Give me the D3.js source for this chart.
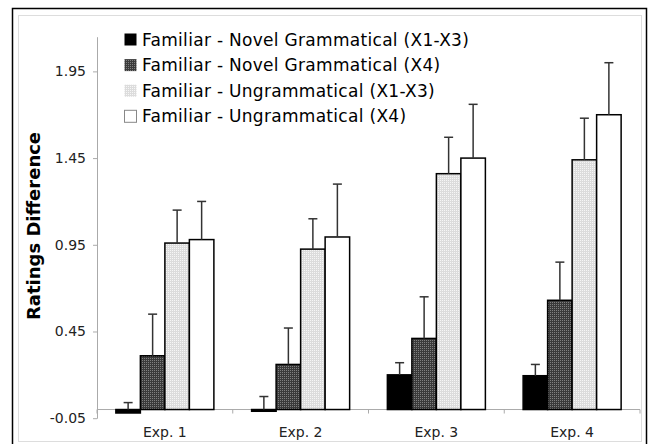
<!DOCTYPE html>
<head>
	<meta charset="utf-8">
	<script src="https://d3js.org/d3.v7.min.js"></script>
	<style>
		body { margin: 0; background: #fff; }
		text { font-family: "DejaVu Sans", Verdana, sans-serif; }
	</style>
</head>
<body>
<svg></svg>
<script>
	var experiments = ["Exp. 1", "Exp. 2", "Exp. 3", "Exp. 4"];
	var seriesNames = [
		"Familiar - Novel Grammatical (X1-X3)",
		"Familiar - Novel Grammatical (X4)",
		"Familiar - Ungrammatical (X1-X3)",
		"Familiar - Ungrammatical (X4)"
	];
	// means, one array per series (Exp. 1..4)
	var novelX1X3 = [-0.02, -0.01, 0.20, 0.195];
	var novelX4 = [0.31, 0.26, 0.41, 0.63];
	var ungramX1X3 = [0.96, 0.925, 1.36, 1.44];
	var ungramX4 = [0.98, 0.995, 1.45, 1.70];
	// top of the error bars
	var novelX1X3Err = [0.04, 0.075, 0.27, 0.26];
	var novelX4Err = [0.55, 0.47, 0.65, 0.85];
	var ungramX1X3Err = [1.15, 1.10, 1.57, 1.68];
	var ungramX4Err = [1.20, 1.30, 1.76, 2.00];
	var yTicks = [-0.05, 0.45, 0.95, 1.45, 1.95];

	var means = [novelX1X3, novelX4, ungramX1X3, ungramX4];
	var errs = [novelX1X3Err, novelX4Err, ungramX1X3Err, ungramX4Err];

	var width = 649, height = 444;
	var svg = d3.select("svg").attr("width", width).attr("height", height);

	var defs = svg.append("defs");
	var dark = defs.append("pattern").attr("id", "dark")
		.attr("width", 2).attr("height", 2).attr("patternUnits", "userSpaceOnUse");
	dark.append("rect").attr("width", 2).attr("height", 2).attr("fill", "#3a3a3a");
	dark.append("rect").attr("width", 1).attr("height", 1).attr("fill", "#808080");
	var light = defs.append("pattern").attr("id", "light")
		.attr("width", 2).attr("height", 2).attr("patternUnits", "userSpaceOnUse");
	light.append("rect").attr("width", 2).attr("height", 2).attr("fill", "#dcdcdc");
	light.append("rect").attr("width", 1).attr("height", 1).attr("fill", "#f6f6f6");

	var fills = ["#000", "url(#dark)", "url(#light)", "#fff"];

	// frames
	svg.append("rect").attr("x", 12.5).attr("y", 8.5).attr("width", 634).attr("height", 450)
		.attr("fill", "none").attr("stroke", "#000").attr("stroke-width", 1.5);
	svg.append("rect").attr("x", 18.5).attr("y", 15.5).attr("width", 623).attr("height", 426)
		.attr("fill", "none").attr("stroke", "#ddd").attr("stroke-width", 1);

	var x0 = d3.scaleBand().domain(experiments).range([97, 640]).paddingInner(0).paddingOuter(0);
	var x1 = d3.scaleBand().domain(d3.range(4)).range([0, x0.bandwidth()]).paddingOuter(0.77);
	var y = d3.scaleLinear().domain([-0.05, 2.15]).range([418.2, 36.7]);

	// y axis
	var fmt = d3.format(".2f");
	var yAxis = d3.axisLeft(y).tickValues(yTicks).tickSize(4).tickSizeOuter(0).tickPadding(7)
		.tickFormat(function(d) { return fmt(d).replace("\u2212", "-"); });
	var gy = svg.append("g").attr("transform", "translate(97,0)").call(yAxis);
	gy.select(".domain").attr("stroke", "#aaa");
	gy.selectAll(".tick line").attr("stroke", "#aaa");
	gy.selectAll(".tick text").attr("font-size", 14).attr("fill", "#222")
		.attr("font-family", "DejaVu Sans, sans-serif");

	// x axis along zero
	var gx = svg.append("g");
	gx.append("line").attr("x1", 97).attr("x2", 640).attr("y1", y(0)).attr("y2", y(0))
		.attr("stroke", "#aaa");
	var bounds = experiments.map(function(d) { return x0(d); }).concat([640]);
	gx.selectAll(".xt").data(bounds).enter().append("line")
		.attr("x1", function(d) { return d; }).attr("x2", function(d) { return d; })
		.attr("y1", y(0)).attr("y2", y(0) + 4).attr("stroke", "#aaa");
	gx.selectAll(".xl").data(experiments).enter().append("text")
		.attr("x", function(d) { return x0(d) + x0.bandwidth() / 2; })
		.attr("y", 437).attr("text-anchor", "middle").attr("font-size", 14).attr("fill", "#222")
		.text(function(d) { return d; });

	// bars
	var rows = [];
	experiments.forEach(function(e, i) {
		for (var s = 0; s < 4; s++) rows.push({ exp: e, s: s, v: means[s][i], err: errs[s][i] });
	});
	var g = svg.append("g");
	g.selectAll("rect").data(rows).enter().append("rect")
		.attr("x", function(d) { return x0(d.exp) + x1(d.s); })
		.attr("width", x1.bandwidth())
		.attr("y", function(d) { return y(Math.max(0, d.v)); })
		.attr("height", function(d) { return Math.abs(y(d.v) - y(0)); })
		.attr("fill", function(d) { return fills[d.s]; })
		.attr("stroke", "#000").attr("stroke-width", 1.5);

	// error bars (upper only)
	var eg = svg.append("g").attr("stroke", "#333").attr("stroke-width", 1.5);
	rows.forEach(function(d) {
		var cx = x0(d.exp) + x1(d.s) + x1.bandwidth() / 2;
		eg.append("line").attr("x1", cx).attr("x2", cx)
			.attr("y1", y(Math.max(0, d.v))).attr("y2", y(d.err));
		eg.append("line").attr("x1", cx - 4.5).attr("x2", cx + 4.5)
			.attr("y1", y(d.err)).attr("y2", y(d.err));
	});

	// y label
	svg.append("text").attr("transform", "translate(40,226) rotate(-90)")
		.attr("text-anchor", "middle").attr("font-size", 18).attr("font-weight", "bold")
		.text("Ratings Difference");

	// legend
	var leg = svg.append("g").attr("transform", "translate(124,0)");
	seriesNames.forEach(function(name, i) {
		var by = 45.5 + i * 25.6;
		leg.append("rect").attr("x", 0.5).attr("y", by - 12).attr("width", 12).attr("height", 12)
			.attr("fill", fills[i]).attr("stroke", i == 3 ? "#888" : "none").attr("stroke-width", 1);
		leg.append("text").attr("x", 18).attr("y", by).attr("font-size", 17)
			.attr("letter-spacing", 0.3).attr("fill", "#000")
			.text(name);
	});
</script>
</body>
</html>
